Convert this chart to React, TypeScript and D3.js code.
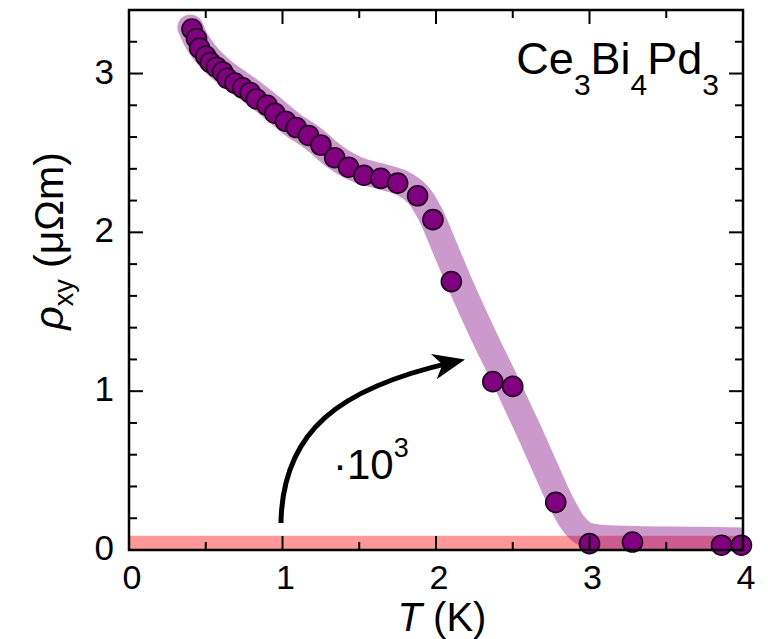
import React from "react";
import * as d3 from "d3";

// measured points, T in K, rho_xy in µΩm
const temps = [0.41, 0.44, 0.46, 0.5, 0.53, 0.57, 0.61, 0.64, 0.69, 0.74, 0.79, 0.83, 0.9, 0.95, 1.02, 1.09, 1.17, 1.25, 1.34, 1.43, 1.53, 1.64, 1.75, 1.88, 1.98, 2.1, 2.37, 2.5, 2.78, 3.0, 3.28, 3.86, 3.99];
const rhoXY = [3.28, 3.22, 3.16, 3.11, 3.07, 3.04, 3.01, 2.97, 2.94, 2.91, 2.88, 2.84, 2.8, 2.75, 2.7, 2.66, 2.61, 2.55, 2.47, 2.41, 2.36, 2.34, 2.31, 2.23, 2.08, 1.69, 1.06, 1.03, 0.3, 0.04, 0.05, 0.03, 0.03];

// guide-to-the-eye band
const fitT = [0.4, 0.45, 0.52, 0.62, 0.75, 0.9, 1.05, 1.2, 1.35, 1.5, 1.65, 1.78, 1.88, 1.96, 2.05, 2.15, 2.3, 2.46, 2.6, 2.72, 2.82, 2.9, 2.97, 3.05, 3.3, 3.7, 4.0];
const fitRho = [3.29, 3.19, 3.1, 3.01, 2.92, 2.81, 2.69, 2.59, 2.47, 2.39, 2.35, 2.31, 2.24, 2.12, 1.92, 1.69, 1.37, 1.05, 0.76, 0.5, 0.29, 0.16, 0.1, 0.08, 0.07, 0.065, 0.06];

// the other (x10^3 smaller) curve, shown as a flat band near zero
const bandT = [0, 4];
const bandTop = [0.09, 0.09];

const xMajor = [0, 1, 2, 3, 4];
const xMinor = [0.5, 1.5, 2.5, 3.5];
const yMajor = [0, 1, 2, 3];
const yMinor = [0.2, 0.4, 0.6, 0.8, 1.2, 1.4, 1.6, 1.8, 2.2, 2.4, 2.6, 2.8, 3.2];

// annotation arrow in data units: start, two controls, tip
const arrowT = [0.99, 1.0, 1.37, 2.1];
const arrowRho = [0.17, 0.75, 1.02, 1.18];

const W = 768;
const H = 639;
const font = "'Liberation Sans', Arial, sans-serif";

export default function App() {
  const left = 129, right = 743, top = 10, bottom = 550;
  const x = d3.scaleLinear().domain([0, 4]).range([left, right]);
  const y = d3.scaleLinear().domain([0, 3.4]).range([bottom, top]);

  const fitLine = d3
    .line<number>()
    .x((d, i) => x(fitT[i]))
    .y((d, i) => y(d))
    .curve(d3.curveCatmullRom.alpha(0.5));

  const band = d3
    .area<number>()
    .x((d, i) => x(bandT[i]))
    .y0(y(0))
    .y1((d) => y(d));

  const ax = arrowT.map((t) => x(t));
  const ay = arrowRho.map((r) => y(r));
  const arrowPath = `M${ax[0]},${ay[0]} C${ax[1]},${ay[1]} ${ax[2]},${ay[2]} ${ax[3]},${ay[3]}`;
  // head: tip a bit beyond path end along its direction
  const dx = ax[3] - ax[2], dy = ay[3] - ay[2];
  const len = Math.hypot(dx, dy);
  const ux = dx / len, uy = dy / len;
  const tipX = ax[3] + ux * 14, tipY = ay[3] + uy * 14;
  const hl = 32, hw = 13;
  const bx = tipX - ux * hl, by = tipY - uy * hl;
  const head = `M${tipX},${tipY} L${bx - uy * hw},${by + ux * hw} L${tipX - ux * hl * 0.72},${tipY - uy * hl * 0.72} L${bx + uy * hw},${by - ux * hw} Z`;

  return (
    <svg width={W} height={H} style={{ position: "absolute", left: 0, top: 0, background: "#fff" }}>
      <defs>
        <clipPath id="plot">
          <rect x={left} y={top} width={right - left} height={bottom - top} />
        </clipPath>
      </defs>

      <g clipPath="url(#plot)">
        <path d={band(bandTop) || ""} fill="#ff0000" fillOpacity={0.4} />
        <path
          d={fitLine(fitRho) || ""}
          fill="none"
          stroke="#800080"
          strokeOpacity={0.4}
          strokeWidth={26}
          strokeLinecap="round"
          strokeLinejoin="round"
        />
      </g>

      {temps.map((t, i) => (
        <circle key={i} cx={x(t)} cy={y(rhoXY[i])} r={10} fill="#800080" stroke="#1c001c" strokeWidth={1.6} />
      ))}

      {/* frame and inward ticks */}
      <rect x={left} y={top} width={right - left} height={bottom - top} fill="none" stroke="#000" strokeWidth={2.5} />
      {xMajor.concat(xMinor).map((t) => {
        const l = xMajor.includes(t) ? 14 : 8;
        return (
          <g key={"x" + t} stroke="#000" strokeWidth={2}>
            <line x1={x(t)} x2={x(t)} y1={bottom} y2={bottom - l} />
            <line x1={x(t)} x2={x(t)} y1={top} y2={top + l} />
          </g>
        );
      })}
      {yMajor.concat(yMinor).map((v) => {
        const l = yMajor.includes(v) ? 14 : 8;
        return (
          <g key={"y" + v} stroke="#000" strokeWidth={2}>
            <line x1={left} x2={left + l} y1={y(v)} y2={y(v)} />
            <line x1={right} x2={right - l} y1={y(v)} y2={y(v)} />
          </g>
        );
      })}

      <g fontFamily={font} fontSize={34} fill="#000">
        {xMajor.map((t) => (
          <text key={t} x={x(t) + 3} y={589} textAnchor="middle">
            {t}
          </text>
        ))}
      </g>
      <g fontFamily={font} fontSize={35} fill="#000">
        {yMajor.map((v) => (
          <text key={v} x={114} y={y(v) + 10} textAnchor="end">
            {v}
          </text>
        ))}
      </g>

      <text x={442} y={631} textAnchor="middle" fontFamily={font} fontSize={40}>
        <tspan fontStyle="italic">T</tspan> (K)
      </text>

      <text transform={`translate(63,241) rotate(-90)`} textAnchor="middle" fontFamily={font} fontSize={41}>
        <tspan fontStyle="italic">ρ</tspan>
        <tspan fontSize={27} dy={10}>xy</tspan>
        <tspan dy={-10}> (μΩm)</tspan>
      </text>

      <text x={719} y={74} textAnchor="end" fontFamily={font} fontSize={45}>
        Ce<tspan fontSize={30} dy={21}>3</tspan>
        <tspan dy={-21}>Bi</tspan>
        <tspan fontSize={30} dy={21}>4</tspan>
        <tspan dy={-21}>Pd</tspan>
        <tspan fontSize={30} dy={21}>3</tspan>
      </text>

      <path d={arrowPath} fill="none" stroke="#000" strokeWidth={5} />
      <path d={head} fill="#000" />

      <text x={333} y={479} fontFamily={font} fontSize={42}>
        ·10<tspan fontSize={27} dy={-22}>3</tspan>
      </text>
    </svg>
  );
}
